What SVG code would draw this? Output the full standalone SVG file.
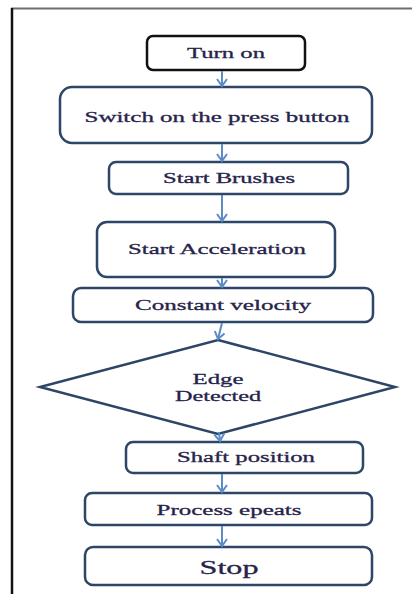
<svg xmlns="http://www.w3.org/2000/svg" width="412" height="594" viewBox="0 0 412 594">
<defs>
<style>
.box{fill:#fff;stroke:#2d4667;stroke-width:2.5}
.start{fill:#fff;stroke:#111;stroke-width:2.5}
.t{font-family:"Liberation Serif","Times New Roman",serif;fill:#26234a;text-anchor:middle;dominant-baseline:central;stroke:#26234a;stroke-width:0.3}
.c{stroke:#5b8cc8;stroke-width:2;fill:none}
</style>
<marker id="ah" viewBox="0 0 12 12" refX="10" refY="6" markerWidth="12" markerHeight="12" markerUnits="userSpaceOnUse" orient="auto">
<path d="M3,1 L10,6 L3,11" fill="none" stroke="#5b8cc8" stroke-width="2"/>
</marker>
</defs>
<rect width="412" height="594" fill="#fff"/>
<g id="frame">
<line x1="11" y1="8.5" x2="412" y2="8.5" stroke="#6e6e6e" stroke-width="2"/>
<line x1="12" y1="8" x2="12" y2="594" stroke="#111" stroke-width="2.5"/>
</g>
<g id="turn-on">
<rect class="start" x="147" y="36" width="158" height="34" rx="6"/>
<text class="t" x="226" y="53" font-size="15" textLength="78" lengthAdjust="spacingAndGlyphs">Turn on</text>
</g>
<g id="switch">
<rect class="box" x="60" y="87" width="312" height="56" rx="12"/>
<text class="t" x="217" y="117" font-size="15" textLength="265" lengthAdjust="spacingAndGlyphs">Switch on the press button</text>
</g>
<g id="brushes">
<rect class="box" x="109" y="162" width="239" height="32" rx="7"/>
<text class="t" x="229" y="178" font-size="15" textLength="132" lengthAdjust="spacingAndGlyphs">Start Brushes</text>
</g>
<g id="acceleration">
<rect class="box" x="97" y="222" width="238" height="55" rx="10"/>
<text class="t" x="217" y="249" font-size="15" textLength="178" lengthAdjust="spacingAndGlyphs">Start Acceleration</text>
</g>
<g id="constant">
<rect class="box" x="73" y="288" width="300" height="34" rx="8"/>
<text class="t" x="223" y="305" font-size="15" textLength="176" lengthAdjust="spacingAndGlyphs">Constant velocity</text>
</g>
<g id="edge">
<polygon class="box" points="218,340 395,387 218,434 40,387"/>
<text class="t" x="218" y="379" font-size="15" textLength="51" lengthAdjust="spacingAndGlyphs">Edge</text>
<text class="t" x="218" y="396" font-size="15" textLength="86" lengthAdjust="spacingAndGlyphs">Detected</text>
</g>
<g id="shaft">
<rect class="box" x="126" y="442" width="237" height="31" rx="7"/>
<text class="t" x="246" y="457" font-size="15" textLength="138" lengthAdjust="spacingAndGlyphs">Shaft position</text>
</g>
<g id="process">
<rect class="box" x="85" y="493" width="287" height="32" rx="7"/>
<text class="t" x="229" y="510" font-size="15" textLength="145" lengthAdjust="spacingAndGlyphs">Process epeats</text>
</g>
<g id="stop">
<rect class="box" x="85" y="547" width="287" height="38" rx="8"/>
<text class="t" x="229" y="567" font-size="19" textLength="59" lengthAdjust="spacingAndGlyphs">Stop</text>
</g>
<g id="connectors">
<line class="c" x1="222" y1="71" x2="222" y2="86" marker-end="url(#ah)"/>
<line class="c" x1="222" y1="144" x2="222" y2="161" marker-end="url(#ah)"/>
<line class="c" x1="222" y1="195" x2="222" y2="221" marker-end="url(#ah)"/>
<line class="c" x1="222" y1="278" x2="222" y2="287" marker-end="url(#ah)"/>
<line class="c" x1="222" y1="323" x2="218" y2="339" marker-end="url(#ah)"/>
<line class="c" x1="219" y1="432" x2="220" y2="441" marker-end="url(#ah)"/>
<line class="c" x1="222" y1="474" x2="222" y2="492" marker-end="url(#ah)"/>
<line class="c" x1="222" y1="526" x2="222" y2="546" marker-end="url(#ah)"/>
</g>
</svg>
